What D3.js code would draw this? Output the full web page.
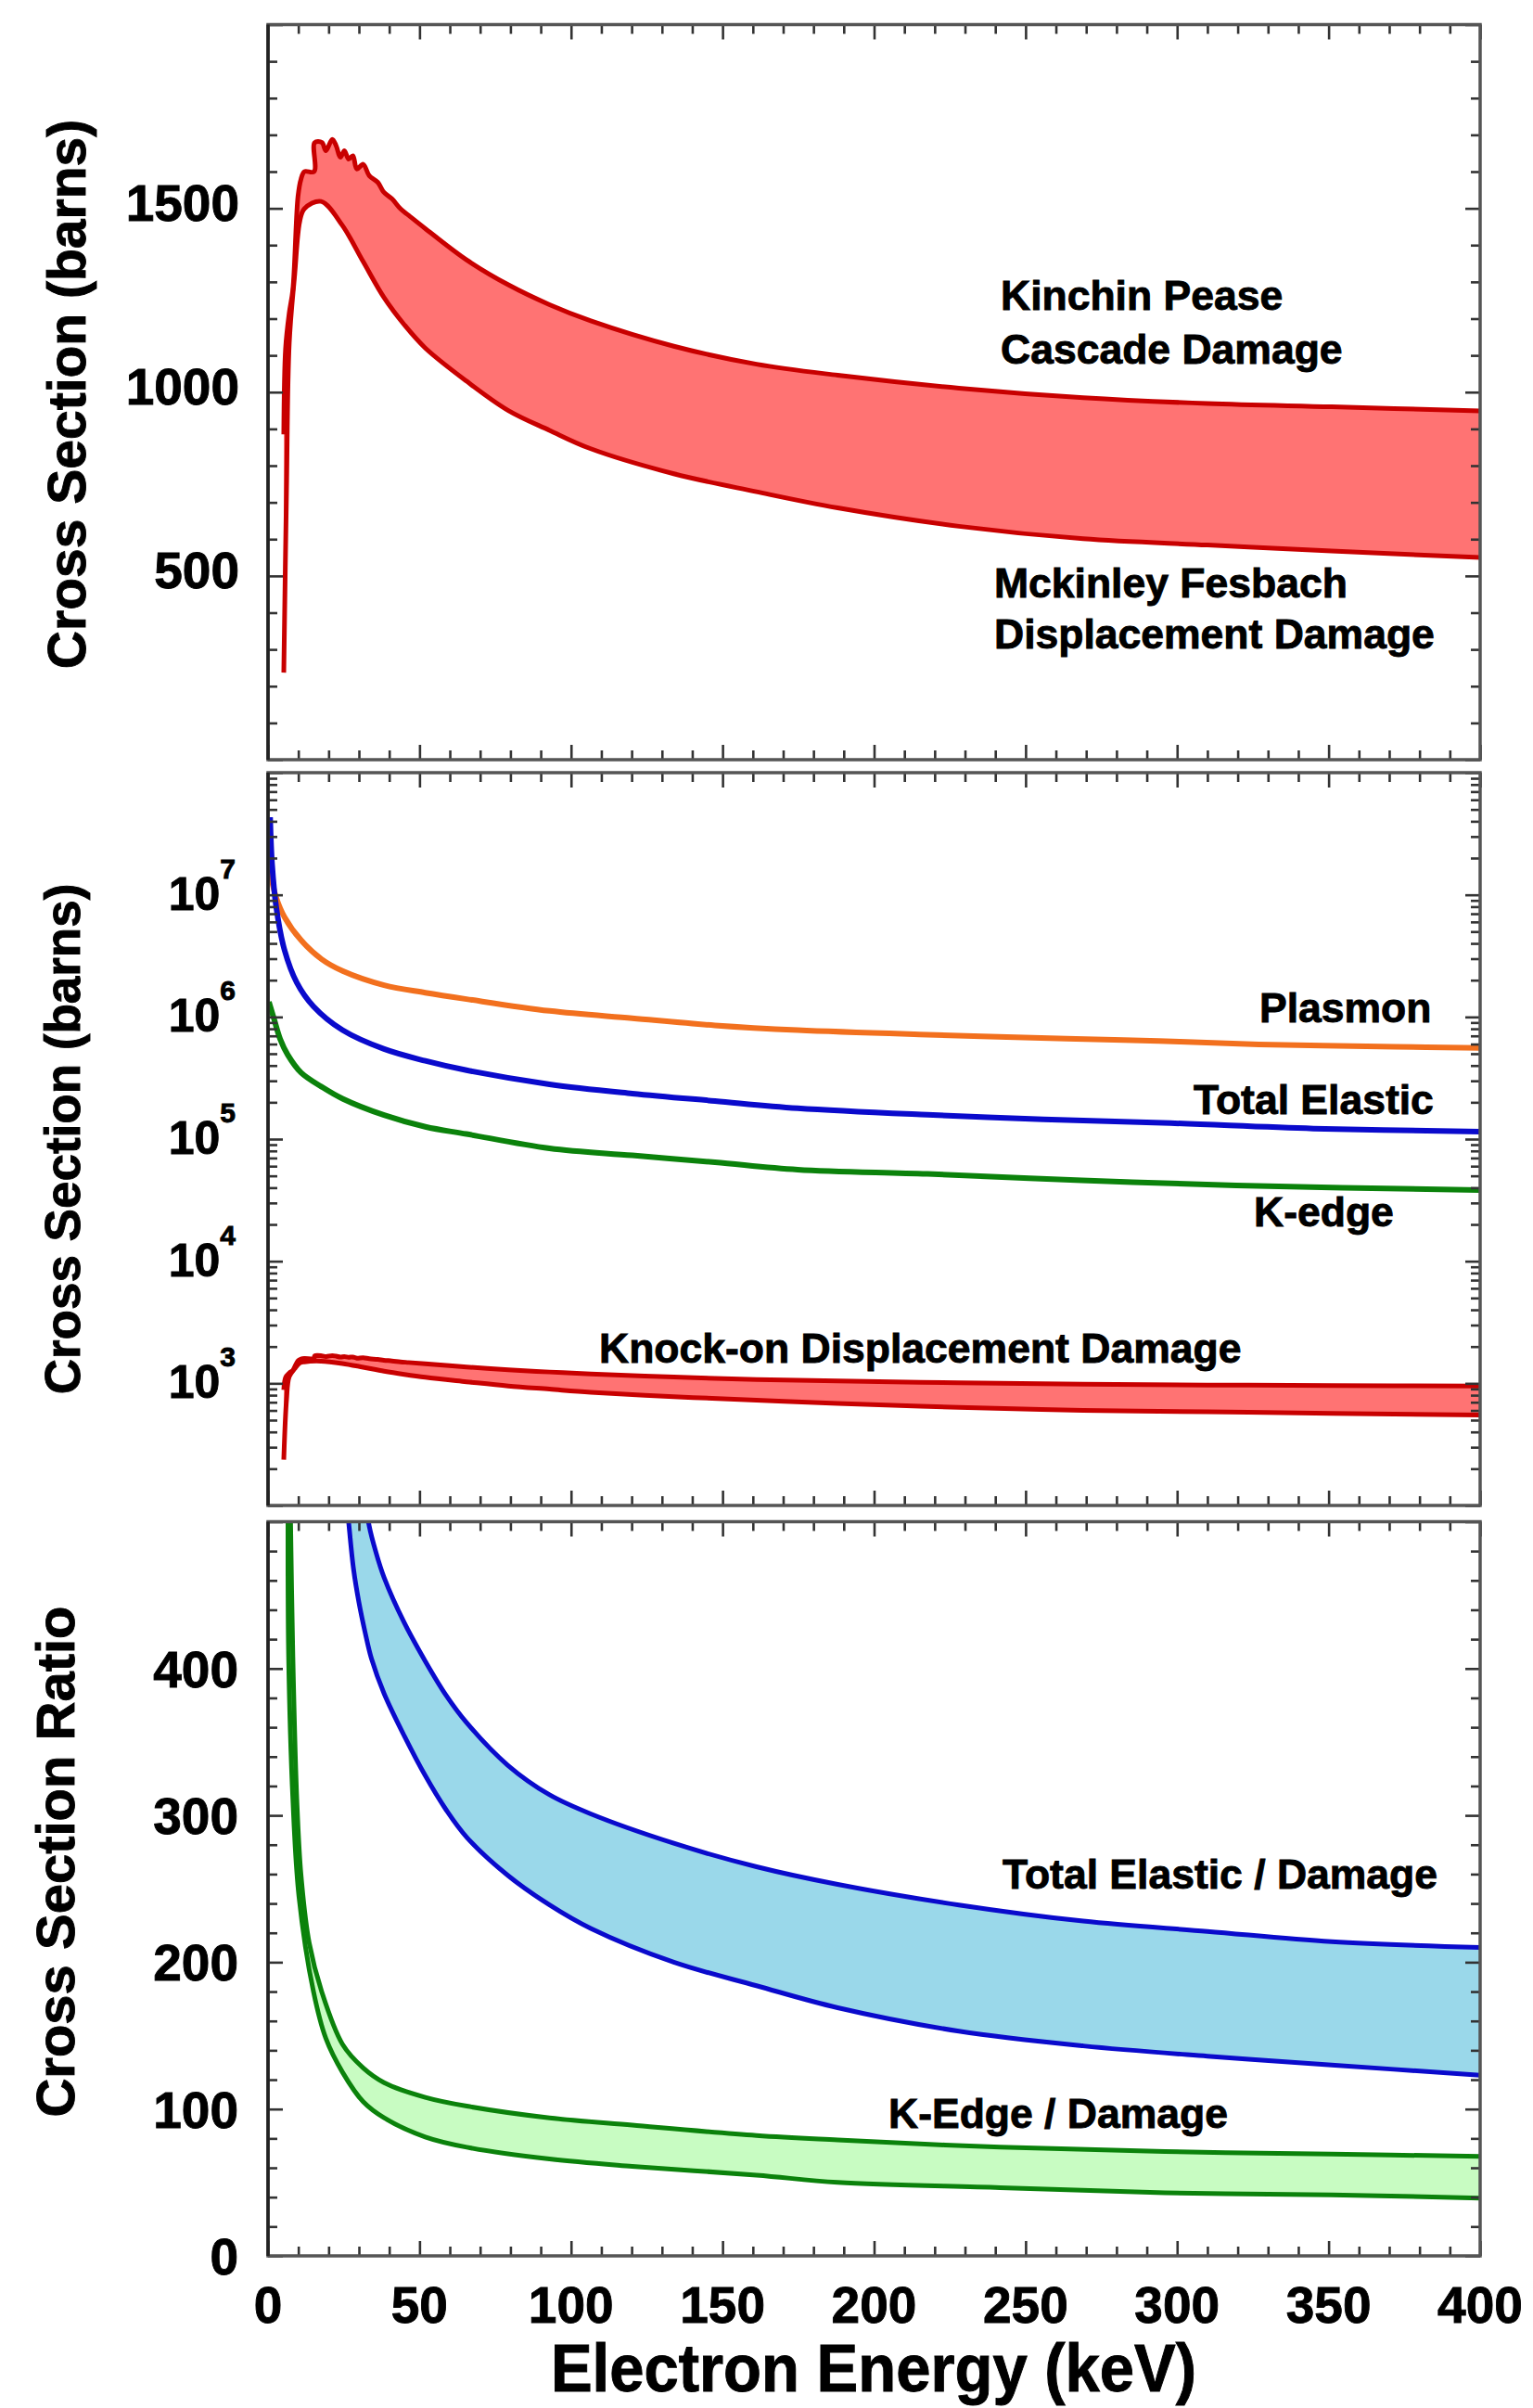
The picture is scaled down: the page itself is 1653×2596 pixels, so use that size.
<!DOCTYPE html>
<html>
<head>
<meta charset="utf-8">
<script src="https://cdnjs.cloudflare.com/ajax/libs/d3/7.8.5/d3.min.js"></script>
<style>
  body { margin: 0; background: #fff; }
  text { font-family: "Liberation Sans", Arial, sans-serif; font-weight: bold; fill: #000; stroke: #000; stroke-width: 0.9px; }
</style>
</head>
<body>
<div id="chart"></div>
<script>
// ---- data (energy in keV) ----

// Kinchin Pease cascade damage (barns)
var kpEnergy = [5.2, 5.8, 7.0, 8.2, 9.9, 10.9, 12.0, 15.2, 15.4, 17.8, 19.1, 21.2, 22.5, 23.9, 25.2, 26.6, 28.0, 29.3, 31.4, 33.4, 36.2, 38.2, 40.9, 43.7, 46.4, 51.9, 65.5, 79.3, 92.9, 106.5, 133.9, 161.2, 188, 228, 269, 310, 351, 400];
var kpDamage = [885, 1119, 1215, 1279, 1533, 1580, 1600, 1600, 1679, 1679, 1657, 1688, 1670, 1639, 1657, 1634, 1643, 1607, 1620, 1589, 1571, 1544, 1526, 1499, 1481, 1445, 1360, 1292, 1238, 1194, 1125, 1076, 1046, 1011, 985, 969, 960, 949];

// Mckinley Fesbach displacement damage (barns)
var mfEnergy = [5.2, 6.1, 7.0, 8.8, 10.5, 12.0, 17.5, 24.5, 31.4, 38.3, 45, 51.9, 65.5, 79.3, 92.9, 106.5, 133.9, 161.2, 188, 228, 269, 310, 351, 400];
var mfDamage = [237, 732, 1133, 1320, 1466, 1499, 1519, 1454, 1355, 1257, 1183, 1120, 1030, 950, 896, 846, 778, 729, 685, 635, 601, 584, 568, 550];

// plasmon cross section (barns)
var plasmonEnergy = [0.5, 2.7, 5.4, 10.9, 17.7, 24.6, 38.3, 51.9, 65.5, 92.9, 120.2, 147.5, 174.8, 217.6, 263.5, 294, 327, 372, 400];
var plasmonXS = [1.6e7, 9.5e6, 6.6e6, 4.25e6, 2.97e6, 2.38e6, 1.82e6, 1.58e6, 1.40e6, 1.12e6, 9.75e5, 8.53e5, 7.80e5, 7.16e5, 6.65e5, 6.35e5, 5.96e5, 5.69e5, 5.58e5];

// total elastic cross section (barns)
var elasticEnergy = [0.7, 1.35, 2.7, 5.4, 9.5, 15, 24.6, 38.3, 51.9, 65.5, 92.9, 120.2, 147.5, 174.8, 217.6, 255.9, 297.8, 345, 400];
var elasticXS = [4.32e7, 1.77e7, 7.94e6, 3.56e6, 1.91e6, 1.22e6, 7.80e5, 5.46e5, 4.37e5, 3.66e5, 2.81e5, 2.36e5, 2.05e5, 1.79e5, 1.58e5, 1.45e5, 1.35e5, 1.22e5, 1.15e5];

// K-edge cross section (barns)
var kedgeEnergy = [0.3, 2.0, 4.0, 6.5, 10.9, 17.7, 24.6, 38.3, 51.9, 65.5, 92.9, 120.2, 147.5, 174.8, 217.6, 268.6, 319.5, 400];
var kedgeXS = [1.33e6, 9.6e5, 6.6e5, 4.9e5, 3.50e5, 2.68e5, 2.14e5, 1.57e5, 1.26e5, 1.10e5, 8.39e4, 7.35e4, 6.46e4, 5.62e4, 5.18e4, 4.60e4, 4.17e4, 3.83e4];

// ratios: total elastic / damage (upper uses McKinley Fesbach, lower Kinchin Pease)
var elRatioUpE = [31.8, 33.4, 35.5, 38.3, 45, 51.9, 58.7, 65.6, 79.2, 92.9, 106.5, 133.9, 161.2, 188, 228, 269, 310, 351, 400];
var elRatioUpV = [520, 497, 480, 462, 431, 405, 382, 363, 334, 314, 301, 281, 265, 253, 239, 228, 221, 214, 210];
var elRatioLoE = [25.5, 26.6, 28.2, 30, 32, 34.1, 38.3, 45, 51.9, 58.7, 65.6, 79.2, 92.9, 106.5, 133.9, 161.2, 188, 228, 269, 310, 351, 400];
var elRatioLoV = [525, 500, 468, 445, 425, 407, 383, 354, 327, 304, 285, 259, 239, 223, 200, 184, 169, 153, 143, 136, 130, 123];

// ratios: K-edge / damage
var keRatioUpE = [7.3, 8.2, 9.5, 10.9, 13.6, 17.7, 24.6, 31.4, 38.3, 51.9, 65.6, 92.9, 120.2, 161.2, 188, 241.6, 296, 351, 400];
var keRatioUpV = [520, 408, 311, 259, 213, 180, 144, 128, 118, 108, 102, 94, 89, 82, 79, 74, 71, 69.4, 67.7];
var keRatioLoE = [6.6, 6.8, 8.2, 10.2, 15, 19.1, 24.6, 31.4, 38.3, 51.9, 65.6, 92.9, 120.2, 161.2, 188, 241.6, 296, 351, 400];
var keRatioLoV = [520, 408, 311, 245, 180, 148, 125, 105, 94, 81, 74, 66, 61, 55, 50, 46.5, 43, 41.6, 39.3];

// tick values / labels
var xLabels = [0, 50, 100, 150, 200, 250, 300, 350, 400];
var topLabels = [500, 1000, 1500];
var logDecades = [1e3, 1e4, 1e5, 1e6, 1e7];
var ratioLabels = [0, 100, 200, 300, 400];

// ---- layout ----
var svgWidth = 1653;
var svgHeight = 2596;
var left = 289, right = 1596;
var panels = [
  { top: 26.5, bottom: 819 },
  { top: 833, bottom: 1623 },
  { top: 1640.5, bottom: 2432 }
];

var redLine = "#c80000", redFill = "#ff7373";
var orange = "#f2701e", blue = "#0a0acc", green = "#0b820b";
var blueFill = "#9ad8ea", greenFill = "#c8fcc2";

var svg = d3.select("#chart")
  .append("svg")
  .attr("width", svgWidth)
  .attr("height", svgHeight)
  .style("background", "#fff");

var x = d3.scaleLinear().domain([0, 400]).range([left, right]);
var y1 = d3.scaleLinear().domain([0, 2000]).range([panels[0].bottom, panels[0].top]);
var y2 = d3.scaleLog().domain([100, 1e8]).range([panels[1].bottom, panels[1].top]);
var y3 = d3.scaleLinear().domain([0, 500]).range([panels[2].bottom, panels[2].top]);

var curve = d3.line().curve(d3.curveCatmullRom.alpha(0.5));

// clip paths for each panel
var defs = svg.append("defs");
panels.forEach(function(p, i) {
  defs.append("clipPath").attr("id", "clip" + i)
    .append("rect")
    .attr("x", left).attr("y", p.top)
    .attr("width", right - left).attr("height", p.bottom - p.top);
});

function pts(es, vs, ys) {
  return es.map((e, i) => [x(e), ys(vs[i])]);
}

// filled band between two curves plus its two edge lines
function drawBand(g, ys, upE, upV, loE, loV, fill, stroke, sw) {
  var up = pts(upE, upV, ys);
  var lo = pts(loE, loV, ys).reverse();
  g.append("path")
    .attr("d", curve(up) + curve(lo).replace(/^M/, "L") + "Z")
    .attr("fill", fill)
    .attr("stroke", "none");
  [up, lo].forEach(function(p) {
    g.append("path")
      .attr("d", curve(p))
      .attr("fill", "none")
      .attr("stroke", stroke)
      .attr("stroke-width", sw)
      .attr("stroke-linejoin", "round");
  });
}

function drawLine(g, ys, es, vs, stroke, sw) {
  g.append("path")
    .attr("d", curve(pts(es, vs, ys)))
    .attr("fill", "none")
    .attr("stroke", stroke)
    .attr("stroke-width", sw)
    .attr("stroke-linejoin", "round");
}

// inward ticks on all four sides
function drawFrame(p, ys, yMajor, yMinor) {
  var g = svg.append("g");
  var xMajor = d3.range(0, 401, 50);
  var xMinor = d3.range(0, 401, 10).filter(v => v % 50 !== 0);
  var specs = [
    [d3.axisBottom(x), `translate(0,${p.bottom})`, xMajor, xMinor],
    [d3.axisTop(x), `translate(0,${p.top})`, xMajor, xMinor],
    [d3.axisLeft(ys), `translate(${left},0)`, yMajor, yMinor],
    [d3.axisRight(ys), `translate(${right},0)`, yMajor, yMinor]
  ];
  specs.forEach(function(s) {
    [[s[2], 16], [s[3], 10]].forEach(function(t) {
      var ax = s[0].tickValues(t[0]).tickSize(-t[1]).tickFormat("");
      var a = g.append("g").attr("transform", s[1]).call(ax);
      a.select(".domain").remove();
      a.selectAll("line").attr("stroke", "#333").attr("stroke-width", 2.6);
    });
  });
  g.append("rect")
    .attr("x", left).attr("y", p.top)
    .attr("width", right - left).attr("height", p.bottom - p.top)
    .attr("fill", "none")
    .attr("stroke", "#555")
    .attr("stroke-width", 3.5);
  g.append("line")
    .attr("x1", left).attr("x2", left)
    .attr("y1", p.top).attr("y2", p.bottom)
    .attr("stroke", "#222").attr("stroke-width", 3.5);
}

// ---- panel 1: damage cross sections ----
var g1 = svg.append("g").attr("clip-path", "url(#clip0)");
drawBand(g1, y1, kpEnergy, kpDamage, mfEnergy, mfDamage, redFill, redLine, 5);
drawFrame(panels[0], y1, [0, 500, 1000, 1500, 2000], d3.range(100, 2000, 100).filter(v => v % 500 !== 0));

svg.selectAll(".ylab1")
  .data(topLabels)
  .enter()
  .append("text")
  .attr("x", 258)
  .attr("y", d => y1(d) + 13)
  .attr("text-anchor", "end")
  .attr("font-size", 55)
  .text(d => d);

// ---- panel 2: log cross sections ----
var g2 = svg.append("g").attr("clip-path", "url(#clip1)");
drawBand(g2, y2, kpEnergy, kpDamage, mfEnergy, mfDamage, redFill, redLine, 5);
drawLine(g2, y2, plasmonEnergy, plasmonXS, orange, 6);
drawLine(g2, y2, elasticEnergy, elasticXS, blue, 6);
drawLine(g2, y2, kedgeEnergy, kedgeXS, green, 6);

var logMinor = [];
[1e2, 1e3, 1e4, 1e5, 1e6, 1e7].forEach(function(d) {
  for (var k = 2; k <= 9; k++) logMinor.push(k * d);
});
drawFrame(panels[1], y2, [1e2, 1e3, 1e4, 1e5, 1e6, 1e7, 1e8], logMinor);

var logLab = svg.selectAll(".ylab2")
  .data(logDecades)
  .enter()
  .append("text")
  .attr("x", 254)
  .attr("y", d => y2(d) + 16)
  .attr("text-anchor", "end");
logLab.append("tspan").attr("font-size", 50).text("10");
logLab.append("tspan").attr("font-size", 30).attr("dy", -34)
  .text(d => Math.round(Math.log10(d)));

// ---- panel 3: ratios ----
var g3 = svg.append("g").attr("clip-path", "url(#clip2)");
drawBand(g3, y3, elRatioUpE, elRatioUpV, elRatioLoE, elRatioLoV, blueFill, blue, 5);
drawBand(g3, y3, keRatioUpE, keRatioUpV, keRatioLoE, keRatioLoV, greenFill, green, 5);
drawFrame(panels[2], y3, d3.range(0, 501, 100), d3.range(20, 500, 20).filter(v => v % 100 !== 0));

svg.selectAll(".ylab3")
  .data(ratioLabels)
  .enter()
  .append("text")
  .attr("x", 257)
  .attr("y", d => y3(d) + 20)
  .attr("text-anchor", "end")
  .attr("font-size", 55)
  .text(d => d);

// x tick labels
svg.selectAll(".xlab")
  .data(xLabels)
  .enter()
  .append("text")
  .attr("x", d => x(d))
  .attr("y", 2504)
  .attr("text-anchor", "middle")
  .attr("font-size", 55)
  .text(d => d);

// axis titles
svg.append("text")
  .attr("transform", "translate(942,2578) scale(1,1.08)")
  .attr("text-anchor", "middle")
  .attr("font-size", 67)
  .text("Electron Energy (keV)");

[["Cross Section (barns)", 92, 425, 57],
 ["Cross Section (barns)", 86, 1228, 53],
 ["Cross Section Ratio", 80, 2007, 58]].forEach(function(t) {
  svg.append("text")
    .attr("transform", `translate(${t[1]},${t[2]}) rotate(-90)`)
    .attr("text-anchor", "middle")
    .attr("font-size", t[3])
    .text(t[0]);
});

// curve annotations
[["Kinchin Pease", 1079, 334],
 ["Cascade Damage", 1079, 391.5],
 ["Mckinley Fesbach", 1072, 644],
 ["Displacement Damage", 1072, 698.5],
 ["Plasmon", 1358, 1102],
 ["Total Elastic", 1287, 1201],
 ["K-edge", 1352, 1322],
 ["Knock-on Displacement Damage", 646, 1469],
 ["Total Elastic / Damage", 1081, 2036],
 ["K-Edge / Damage", 958, 2294]].forEach(function(t) {
  svg.append("text")
    .attr("x", t[1])
    .attr("y", t[2])
    .attr("font-size", 44.5)
    .text(t[0]);
});
</script>
</body>
</html>
